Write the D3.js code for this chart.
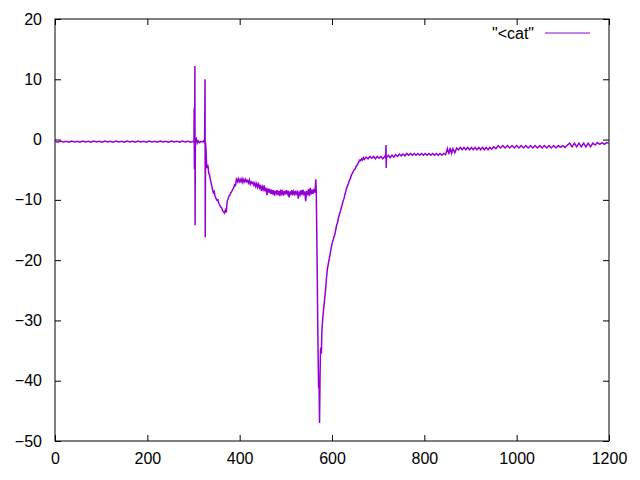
<!DOCTYPE html>
<html>
<head>
<meta charset="utf-8">
<script src="https://cdn.jsdelivr.net/npm/d3@7/dist/d3.min.js"></script>
<style>
  html, body { margin: 0; padding: 0; background: #fff; }
  text { font-family: "Liberation Sans", Arial, sans-serif; }
</style>
</head>
<body>
<svg id="chart" width="640" height="480"></svg>
<script>
const seriesName = '"<cat"';
const xTicks = [0, 200, 400, 600, 800, 1000, 1200];
const yTicks = [-50, -40, -30, -20, -10, 0, 10, 20];
const xDomain = [0, 1200];
const yDomain = [-50, 20];

const baseline = [
  [0,-0.3],[6,-0.45],[12,-0.25],[18,-0.4],[24,-0.3],[30,-0.45],[36,-0.25],[42,-0.4],[48,-0.3],[54,-0.45],
  [60,-0.25],[66,-0.4],[72,-0.3],[78,-0.45],[84,-0.25],[90,-0.4],[96,-0.3],[102,-0.45],[108,-0.25],[114,-0.4],
  [120,-0.3],[126,-0.45],[132,-0.25],[138,-0.4],[144,-0.3],[150,-0.45],[156,-0.25],[162,-0.4],[168,-0.3],[174,-0.45],
  [180,-0.25],[186,-0.4],[192,-0.3],[198,-0.45],[204,-0.25],[210,-0.4],[216,-0.3],[222,-0.45],[228,-0.25],[234,-0.4],
  [240,-0.3],[246,-0.45],[252,-0.25],[258,-0.4],[264,-0.3],[270,-0.45],[276,-0.25],[282,-0.4],[288,-0.3],[294,-0.45],
  [300,-0.3]
];
const spikes = [
  [301,-0.5],[301.5,5.2],[302,-4.9],[302.5,-0.4],[303,12.2],[303.5,-14.2],[304,-0.3],[306,0.1],[308,-0.6],[310,-0.2],
  [313,-0.5],[316,-0.3],[319,-0.4],[322,-0.2],[324,-0.6],[325,10.0],[325.5,-16.2],[326,-0.5],[327,-1.5],[328,-3.5],
  [329,-4.7],[331,-4.2],[333,-5.5],[335,-6.0],[337,-6.8],[339,-7.5],[341,-8.2],[343,-8.8],[345,-8.6],[347,-9.5],
  [349,-9.8],[351,-10.1],[353,-10.0],[355,-10.6],[357,-10.9],[359,-11.2],[361,-11.3],[363,-11.8],[365,-12.0],[367,-12.2],
  [369,-11.7],[371,-12.1],[373,-10.2],[375,-9.8],[377,-9.3],[379,-9.2],[381,-8.8],[383,-8.6],[385,-8.2],[387,-8.0],
  [389,-7.5],[391,-7.6],[393,-6.6]
];
const plateau = [
  [395,-7.0],[397,-6.5],[399,-7.0],[401,-6.6],[403,-7.0],[405,-6.5],[407,-7.1],[409,-6.6],[411,-7.0],[413,-6.6],
  [415,-7.0],[417,-6.8],[419,-7.2],[421,-6.7],[423,-7.4],[425,-7.0],[427,-7.3],[429,-7.1],[431,-7.6],[433,-7.2],
  [435,-7.8],[437,-7.3],[439,-7.9],[441,-7.4],[443,-8.0],[445,-7.5],[447,-8.5],[449,-7.8],[451,-8.3],[453,-7.6],
  [455,-8.6],[457,-8.0],[459,-9.2],[461,-8.1],[463,-8.8],[465,-8.2],[467,-9.0],[469,-8.3],[471,-9.1],[473,-8.4],
  [475,-9.3],[477,-8.5],[479,-9.0],[481,-8.4],[483,-9.2],[485,-8.5],[487,-9.4],[489,-8.3],[491,-9.0],[493,-8.6],
  [495,-9.3],[497,-8.5],[499,-9.1],[501,-8.4],[503,-9.0],[505,-8.5],[507,-9.6],[509,-8.6],[511,-9.2],[513,-8.4],
  [515,-9.0],[517,-8.6],[519,-9.3],[521,-8.5],[523,-9.0],[525,-8.7],[527,-9.8],[529,-8.6],[531,-9.1],[533,-8.4],
  [535,-9.2],[537,-8.3],[539,-9.0],[541,-8.6],[543,-10.2],[545,-8.5],[547,-9.2],[549,-8.2],[551,-9.4],[553,-8.0],
  [555,-9.1],[557,-8.3],[559,-9.0],[561,-8.2],[563,-8.8],[565,-6.6]
];
const trough = [
  [566,-9.0],[567,-15.5],[568,-22],[569,-30],[570,-36],[571,-41.2],[572,-40.5],[573,-47.0],[574,-40.0],[575,-35.0],
  [576,-34.5],[577,-35.5],[578,-32.0],[580,-29.6],[582,-28.0],[584,-26.5],[586,-25.0],[588,-23.0],[590,-21.5],[592,-20.6],
  [594,-19.8],[596,-19.0],[598,-18.0],[600,-17.3],[602,-16.8],[604,-16.2],[606,-15.8],[608,-15.0],[610,-14.2],[612,-13.8],
  [614,-13.0],[616,-12.4],[618,-12.0],[620,-11.3],[622,-10.8],[624,-10.2],[626,-9.8],[628,-9.1],[630,-8.6],[632,-8.0],
  [634,-7.6],[636,-7.2],[638,-6.7],[640,-6.4],[642,-5.9],[644,-5.6],[646,-5.3],[648,-5.0],[650,-4.9],[652,-4.5],
  [654,-4.3],[656,-4.0],[658,-3.7],[660,-3.4],[662,-3.5],[664,-3.2],[666,-3.4],[668,-3.0],[670,-3.3]
];
const recovery = [
  [674,-2.9],[678,-3.2],[682,-2.8],[686,-3.1],[690,-2.8],[694,-3.2],[698,-2.8],[702,-3.1],[706,-2.8],[710,-3.2],
  [714,-2.8],[716,-3.0],[717,-0.9],[717.5,-4.7],[718,-3.0],[722,-2.6],[726,-3.0],[730,-2.6],[734,-2.9],[738,-2.5],
  [742,-2.8],[746,-2.4],[750,-2.7],[754,-2.4],[758,-2.7],[762,-2.3],[766,-2.6],[770,-2.3],[774,-2.6],[778,-2.3],
  [782,-2.6],[786,-2.3],[790,-2.6],[794,-2.3],[798,-2.6],[802,-2.3],[806,-2.6],[810,-2.3],[814,-2.6],[818,-2.3],
  [822,-2.6],[826,-2.3],[830,-2.6],[834,-2.3],[838,-2.6],[842,-2.3],[846,-2.5],[850,-1.5],[853,-2.4],[856,-1.4],
  [859,-2.3],[862,-1.5],[866,-2.2],[870,-1.4],[874,-1.7],[878,-1.3],[882,-1.7],[886,-1.3],[890,-1.7],[894,-1.3],
  [898,-1.7],[902,-1.3],[906,-1.7],[910,-1.3],[914,-1.7],[918,-1.3],[922,-1.7],[926,-1.3],[930,-1.7],[934,-1.3],
  [938,-1.7],[942,-1.3],[946,-1.6],[950,-1.2],[955,-1.5],[960,-1.0],[965,-1.4],[970,-1.0],[975,-1.4],[980,-1.0],
  [985,-1.4],[990,-1.0],[995,-1.4],[1000,-1.0],[1005,-1.4],[1010,-1.0],[1015,-1.4],[1020,-1.0],[1025,-1.4],[1030,-1.0],
  [1035,-1.4],[1040,-1.0],[1045,-1.4],[1050,-1.0],[1055,-1.4],[1060,-1.0],[1065,-1.4],[1070,-1.0],[1075,-1.4],[1080,-1.0],
  [1085,-1.4],[1090,-1.0],[1095,-1.3],[1100,-1.0],[1105,-1.3],[1110,-0.9],[1115,-0.6],[1120,-1.2],[1125,-0.6],[1130,-1.2],
  [1135,-0.6],[1140,-1.2],[1145,-0.6],[1150,-1.2],[1155,-0.6],[1160,-1.2],[1165,-0.6],[1170,-0.9],[1175,-0.5],[1180,-0.8],
  [1185,-0.5],[1190,-0.8],[1195,-0.5],[1200,-0.6]
];

const points = baseline.concat(spikes, plateau, trough, recovery);

const svg = d3.select("#chart");
const mLeft = 55, mRight = 609, mTop = 19, mBottom = 441;
const x = d3.scaleLinear().domain(xDomain).range([mLeft, mRight]);
const y = d3.scaleLinear().domain(yDomain).range([mBottom, mTop]);
const fontSize = 16;
const tickLen = 6;

svg.append("rect").attr("width", 640).attr("height", 480).attr("fill", "#fff");

const axB = svg.append("g").attr("transform", `translate(0,${mBottom})`)
  .call(d3.axisBottom(x).tickValues(xTicks).tickSize(-tickLen).tickPadding(12).tickFormat(d3.format("d")));
const axT = svg.append("g").attr("transform", `translate(0,${mTop})`)
  .call(d3.axisTop(x).tickValues(xTicks).tickSize(-tickLen).tickFormat(""));
const axL = svg.append("g").attr("transform", `translate(${mLeft},0)`)
  .call(d3.axisLeft(y).tickValues(yTicks).tickSize(-tickLen).tickPadding(13).tickFormat(d3.format("d")));
const axR = svg.append("g").attr("transform", `translate(${mRight},0)`)
  .call(d3.axisRight(y).tickValues(yTicks).tickSize(-tickLen).tickFormat(""));
[axB, axT, axL, axR].forEach(g => {
  g.select(".domain").remove();
  g.selectAll(".tick line").attr("stroke", "#000").attr("stroke-width", 1);
  g.selectAll(".tick text").attr("fill", "#000").style("font-size", fontSize + "px")
    .style("font-family", '"Liberation Sans", Arial, sans-serif');
});
axB.selectAll(".tick text").attr("dy", "0.71em");

svg.append("rect").attr("x", mLeft).attr("y", mTop).attr("width", mRight - mLeft).attr("height", mBottom - mTop)
  .attr("fill", "none").attr("stroke", "#000").attr("stroke-width", 1);

const line = d3.line().x(d => x(d[0])).y(d => y(d[1]));
svg.append("path").datum(points).attr("d", line)
  .attr("fill", "none").attr("stroke", "#9400d3").attr("stroke-width", 1.5)
  .attr("stroke-linejoin", "miter");

svg.append("text").attr("x", 534).attr("y", 33).attr("text-anchor", "end").attr("dy", "0.35em")
  .style("font-size", fontSize + "px").attr("fill", "#000").text(seriesName);
svg.append("line").attr("x1", 545).attr("x2", 590).attr("y1", 33).attr("y2", 33)
  .attr("stroke", "#9400d3").attr("stroke-width", 1);
</script>
</body>
</html>
